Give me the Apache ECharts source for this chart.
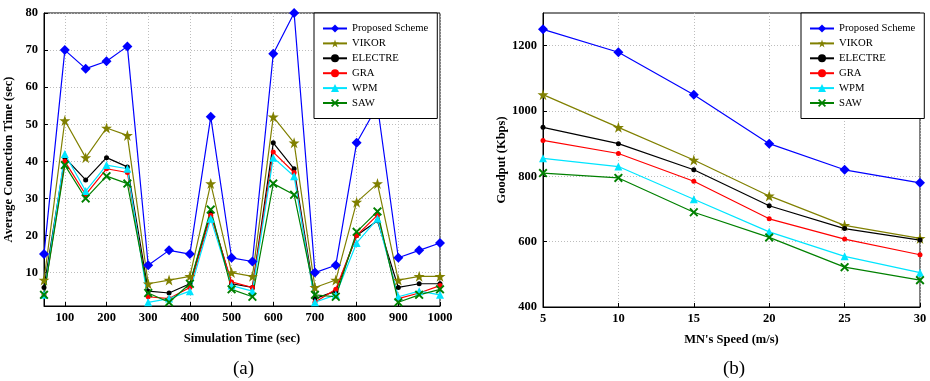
<!DOCTYPE html>
<html><head><meta charset="utf-8">
<script src="https://cdn.jsdelivr.net/npm/echarts@6/dist/echarts.min.js"></script>
<style>html,body{margin:0;padding:0;background:#fff}#c{width:930px;height:381px}</style>
</head><body><div id="c"></div>
<script>
// ---- Chart (a): Average Connection Time vs Simulation Time ----
var timeX = [50,100,150,200,250,300,350,400,450,500,550,600,650,700,750,800,850,900,950,1000];
var propA    = [15,70,65,67,71,12,16,15,52,14,13,69,80,10,12,45,55,14,16,18];
var vikorA   = [8,51,41,49,47,7,8,9,34,10,9,52,45,6,8,29,34,8,9,9];
var electreA = [6,41,35,41,38.5,5,4.5,7,26,7,6,45,38,3,5,20,24,6,7,7];
var graA     = [4,40,31,38,37,3.5,3,6,25.5,7.5,6,42.5,37,2,5.5,20,25.5,3,4.5,6.5];
var wpmA     = [4,42,32,39,38,2,3,5,24.5,6.5,5,41,36,2,4,18,24.5,3.5,5,4];
var sawA     = [4,39,30,36,34,4.5,2,7,27,5.5,3.5,34,31,4,3.5,21,26.5,2,4,5.5];
var xTicksA = [100,200,300,400,500,600,700,800,900,1000];
var yTicksA = [10,20,30,40,50,60,70,80];

// ---- Chart (b): Goodput vs MN's Speed ----
var speedX = [5,10,15,20,25,30];
var propB    = [1250,1180,1050,900,820,780];
var vikorB   = [1050,950,850,740,650,610];
var electreB = [950,900,820,710,640,605];
var graB     = [910,870,785,670,608,560];
var wpmB     = [855,830,730,630,555,505];
var sawB     = [810,795,690,613,522,482];
var xTicksB = [5,10,15,20,25,30];
var yTicksB = [400,600,800,1000,1200];

var names = ['Proposed Scheme','VIKOR','ELECTRE','GRA','WPM','SAW'];
var colors = ['#0000ff','#808000','#000000','#ff0000','#00e5ff','#008000'];
var xPath = 'path://M0,1.5L1.5,0L5,3.5L8.5,0L10,1.5L6.5,5L10,8.5L8.5,10L5,6.5L1.5,10L0,8.5L3.5,5Z';
var symbols = ['diamond','path://M5,0L6.2,3.6L10,3.6L6.9,5.9L8.1,9.5L5,7.3L1.9,9.5L3.1,5.9L0,3.6L3.8,3.6Z','circle','circle','triangle',xPath];
var sizes = [10,11,5,5,8,9];

function zip(xs, ys){ return xs.map(function(x,i){return [x, ys[i]];}); }

var FONT = 'Liberation Serif';
var seriesA = [propA,vikorA,electreA,graA,wpmA,sawA];
var seriesB = [propB,vikorB,electreB,graB,wpmB,sawB];
var series = [];
function addSeries(arrs, xs, idx){
  arrs.forEach(function(ys,i){
    series.push({
      name: names[i], type:'line', xAxisIndex: idx, yAxisIndex: idx,
      data: zip(xs, ys), symbol: symbols[i], symbolSize: sizes[i],
      showAllSymbol: true,
      itemStyle:{color: colors[i]}, lineStyle:{color: colors[i], width: 1.2},
      z: 2, z2: 10 - i
    });
  });
}
addSeries(seriesA, timeX, 0);
addSeries(seriesB, speedX, 1);

function fmt(v){ return String(v); }
function mkX(gi, min, max, ticks, name){
  return {
    type:'value', gridIndex: gi, min:min, max:max, name:name,
    nameLocation:'middle', nameGap: 26,
    nameTextStyle:{fontFamily:FONT, fontWeight:'bold', fontSize:12.5, color:'#000'},
    axisLine:{lineStyle:{color:'#000', width:1}},
    axisTick:{inside:true, length:4, customValues: ticks, lineStyle:{color:'#000'}},
    axisLabel:{customValues: ticks, formatter: fmt, margin:5, fontFamily:FONT, fontWeight:'bold', fontSize:12.5, color:'#000'},
    splitLine:{show:true, lineStyle:{color:'#bdbdbd', type:[1,2], width:1}}
  };
}
function mkY(gi, min, max, ticks, name, gap){
  return {
    type:'value', gridIndex: gi, min:min, max:max, name:name,
    nameLocation:'middle', nameGap: gap,
    nameTextStyle:{fontFamily:FONT, fontWeight:'bold', fontSize:12.5, color:'#000'},
    axisLine:{show:true, lineStyle:{color:'#000', width:1}},
    axisTick:{show:true, inside:true, length:4, customValues: ticks, lineStyle:{color:'#000'}},
    axisLabel:{customValues: ticks, formatter: fmt, margin:6, fontFamily:FONT, fontWeight:'bold', fontSize:12.5, color:'#000'},
    splitLine:{show:true, lineStyle:{color:'#bdbdbd', type:[1,2], width:1}}
  };
}
function mkLegend(left){
  return {
    orient:'vertical', left:left, top:13, data:names, z: 20,
    backgroundColor:'#fff', borderColor:'#000', borderWidth:1,
    padding:[10,9,10,8], itemWidth:24, itemHeight:10, itemGap:3.9,
    textStyle:{fontFamily:FONT, fontSize:10.7, color:'#000'}
  };
}

var chart = echarts.init(document.getElementById('c'), null, {renderer:'canvas'});
chart.setOption({
  animation:false,
  backgroundColor:'#fff',
  title:[
    {text:'(a)', left:228, top:355, textStyle:{fontFamily:FONT, fontWeight:'normal', fontSize:19, color:'#000'}},
    {text:'(b)', left:718, top:355, textStyle:{fontFamily:FONT, fontWeight:'normal', fontSize:19, color:'#000'}}
  ],
  grid:[
    {left:44, top:13, width:396, height:293, show:true, borderColor:'#000', borderWidth:1},
    {left:543, top:13, width:377, height:294, show:true, borderColor:'#000', borderWidth:1}
  ],
  xAxis:[
    mkX(0, 50, 1000, xTicksA, 'Simulation Time (sec)'),
    mkX(1, 5, 30, xTicksB, "MN's Speed (m/s)")
  ],
  yAxis:[
    mkY(0, 1, 80, yTicksA, 'Average Connection Time (sec)', 29),
    mkY(1, 400, 1300, yTicksB, 'Goodput (Kbps)', 34)
  ],
  legend:[mkLegend(314), mkLegend(801)],
  series: series
});
</script></body></html>
